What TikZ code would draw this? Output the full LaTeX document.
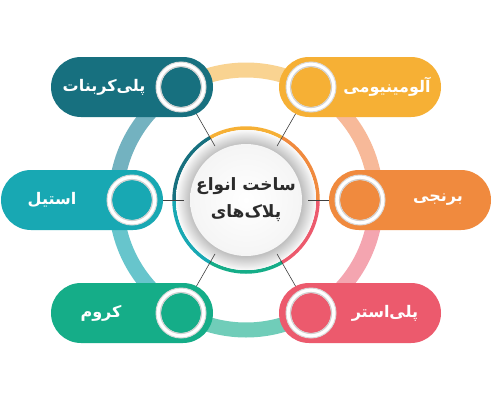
\documentclass[tikz,border=0pt]{standalone}
\usepackage{fontspec}
\newfontfamily\arabicfont[Script=Arabic]{DejaVu Sans}
\TeXXeTstate=1
\usetikzlibrary{backgrounds}
\definecolor{cPC}{HTML}{17707F}
\definecolor{cAL}{HTML}{F6B035}
\definecolor{cST}{HTML}{18A8B3}
\definecolor{cBR}{HTML}{F08A3E}
\definecolor{cCR}{HTML}{15AD88}
\definecolor{cPE}{HTML}{EC5A6D}
\definecolor{rTop}{HTML}{F9D391}
\definecolor{rTR}{HTML}{F7B999}
\definecolor{rBR}{HTML}{F4A5B0}
\definecolor{rBot}{HTML}{70CDB9}
\definecolor{rBL}{HTML}{67C5CC}
\definecolor{rTL}{HTML}{73B2C0}
\definecolor{hubtext}{HTML}{2B2B2B}
\pgfdeclareradialshading{hubshade}{\pgfpoint{0bp}{0bp}}{color(0bp)=(gray!50); color(20bp)=(gray!50); color(25bp)=(white!96!gray); color(50bp)=(white!96!gray)}
\begin{document}
\begin{tikzpicture}[x=1pt,y=1pt,
  pill/.style={rectangle, rounded corners=30pt, minimum width=162pt, minimum height=60pt, inner sep=0pt},
  dotn/.style={circle, minimum size=50pt, inner sep=0pt, fill=white, draw=gray!30, line width=1pt},
  lbl/.style={text=white, font=\arabicfont\bfseries\fontsize{16}{19}\selectfont, inner sep=0pt},
  conn/.style={draw=black!75, line width=0.6pt},
  outring/.style={line width=15pt},
  inring/.style={line width=3.5pt}]
\useasboundingbox (0,0) rectangle (494,400);
% pills
\node[pill, fill=cPC] (pc) at (132,313) {};
\node[pill, fill=cAL] (al) at (360,313) {};
\node[pill, fill=cST] (st) at (82,200) {};
\node[pill, fill=cBR] (br) at (410,200) {};
\node[pill, fill=cCR] (cr) at (132,87) {};
\node[pill, fill=cPE] (pe) at (360,87) {};
% dots
\node[dotn] (pcd) at (181,313) {};
\node[dotn] (ald) at (311,313) {};
\node[dotn] (std) at (132,200) {};
\node[dotn] (brd) at (360,200) {};
\node[dotn] (crd) at (181,87) {};
\node[dotn] (ped) at (311,87) {};
\foreach \d/\c in {pcd/cPC, ald/cAL, std/cST, brd/cBR, crd/cCR, ped/cPE}{
  \fill[\c] (\d.center) circle (20);
  \draw[black!18, line width=1.2pt] (\d.center) circle (20.5);
}
% labels
\node[lbl] (pct) at (104,313) {\beginR پلی^^^^200cکربنات\endR};
\node[lbl] (alt) at (387,313) {\beginR آلومینیومی\endR};
\node[lbl] (stt) at (52,200) {\beginR استیل\endR};
\node[lbl] (brt) at (438,200) {\beginR برنجی\endR};
\node[lbl] (crt) at (101,87) {\beginR کروم\endR};
\node[lbl] (pet) at (385,87) {\beginR پلی^^^^200cاستر\endR};
% hub
\node[circle, minimum size=124pt, inner sep=0pt, align=center, text=hubtext,
  font=\arabicfont\bfseries\fontsize{17}{27}\selectfont] (hub) at (246,200)
  {\beginR ساخت انواع\endR\\\beginR پلاک^^^^200cهای\endR};
\begin{scope}[on background layer]
  \fill[white] (0,0) rectangle (494,400);
  \draw[outring, rTop] (hub.center) ++(60:130) arc[start angle=60, end angle=120, radius=130];
  \draw[outring, rTR] (hub.center) ++(0:130) arc[start angle=0, end angle=60, radius=130];
  \draw[outring, rBR] (hub.center) ++(-60:130) arc[start angle=-60, end angle=0, radius=130];
  \draw[outring, rBot] (hub.center) ++(-120:130) arc[start angle=-120, end angle=-60, radius=130];
  \draw[outring, rBL] (hub.center) ++(180:130) arc[start angle=180, end angle=240, radius=130];
  \draw[outring, rTL] (hub.center) ++(120:130) arc[start angle=120, end angle=180, radius=130];
  \draw[inring, cAL] (hub.center) ++(60:72) arc[start angle=60, end angle=120, radius=72];
  \draw[inring, cBR] (hub.center) ++(0:72) arc[start angle=0, end angle=60, radius=72];
  \draw[inring, cPE] (hub.center) ++(-60:72) arc[start angle=-60, end angle=0, radius=72];
  \draw[inring, cCR] (hub.center) ++(-120:72) arc[start angle=-120, end angle=-60, radius=72];
  \draw[inring, cST] (hub.center) ++(180:72) arc[start angle=180, end angle=240, radius=72];
  \draw[inring, cPC] (hub.center) ++(120:72) arc[start angle=120, end angle=180, radius=72];
  \shade[shading=hubshade] (hub.center) circle (70);
  \shade[inner color=white, outer color=gray!8] (hub.center) circle (56);
  \draw[conn] (hub) -- (pcd);
  \draw[conn] (hub) -- (ald);
  \draw[conn] (hub) -- (std);
  \draw[conn] (hub) -- (brd);
  \draw[conn] (hub) -- (crd);
  \draw[conn] (hub) -- (ped);
\end{scope}
\end{tikzpicture}
\end{document}
